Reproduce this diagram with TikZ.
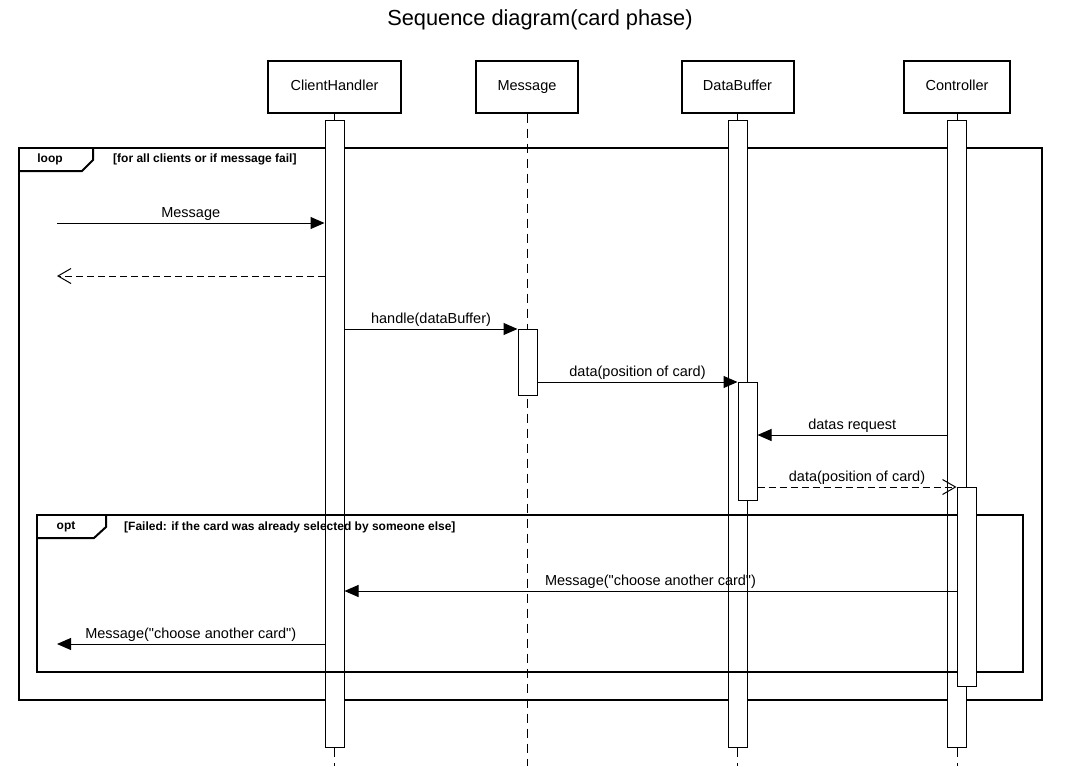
\documentclass[tikz,border=0pt]{standalone}
\usepackage{fontspec}
\setmainfont{Liberation Sans}[Ligatures=TeXOff]
\usetikzlibrary{arrows.meta}
\tikzset{
  head/.style={draw, line width=2pt, fill=white, minimum width=#1, minimum height=52pt, inner sep=0pt, text height=0.72em, text depth=0pt, font=\fontsize{14.5}{16}\selectfont},
  act/.style={draw, line width=1pt, fill=white, minimum width=19pt, inner sep=0pt, anchor=north},
  life/.style={line width=1pt},
  lifed/.style={line width=1pt, dash pattern=on 9pt off 6pt},
  msg/.style={line width=1pt, -{Triangle[length=14pt,width=12pt]}},
  ret/.style={line width=1pt, dash pattern=on 7pt off 4pt, -{Straight Barb[length=13pt,width=15pt,line width=1pt]}},
  mlab/.style={font=\fontsize{14.5}{16}\selectfont, anchor=south, inner sep=2pt},
  frame/.style={line width=2pt},
  ftag/.style={font=\bfseries\fontsize{12}{14}\selectfont, inner sep=0pt},
  fguard/.style={font=\bfseries\fontsize{12}{14}\selectfont, inner sep=0pt, anchor=west},
}
\begin{document}
\begin{tikzpicture}[x=1pt, y=-1pt]
\useasboundingbox (0,0) rectangle (1079,766);
\fill[white] (0,0) rectangle (1079,766);
% title
\node[font=\fontsize{21.8}{24}\selectfont] (title) at (540,20) {Sequence diagram(card phase)};
% heads
\node[head=133pt] (ch) at (334.5,86.5) {ClientHandler};
\node[head=102pt] (ms) at (527,86.5) {Message};
\node[head=112pt] (db) at (737.5,86.5) {DataBuffer};
\node[head=106pt] (ct) at (957,86.5) {Controller};
% bottom ends of lifelines
\coordinate (chE) at (334.5,766);
\coordinate (msE) at (527,766);
\coordinate (dbE) at (737.5,766);
\coordinate (ctE) at (957,766);
% frames
\draw[frame] (19,148) rectangle (1042,700);
\draw[frame] (19,171) -- (82,171) -- (93,160) -- (93,148);
\node[ftag] (looptag) at (50,159) {loop};
\node[fguard] (loopguard) at (113,159) {[for all clients or if message fail]};
% lifelines
\draw[lifed] (ms.south) -- (msE);
% activation bars
\node[act, minimum height=627pt] (chA) at (334.5,120) {};
\node[act, minimum height=627pt] (dbA) at (737.5,120) {};
\node[act, minimum height=627pt] (ctA) at (957,120) {};
\node[act, minimum height=66pt] (msA) at (527.5,329) {};
\node[act, minimum height=118pt] (dbB) at (747.5,382) {};
\draw[life] (ch.south) -- (chA.north);
\draw[life] (db.south) -- (dbA.north);
\draw[life] (ct.south) -- (ctA.north);
\draw[lifed] (chA.south) -- (chE);
\draw[lifed] (dbA.south) -- (dbE);
\draw[lifed] (ctA.south) -- (ctE);
% opt frame
\draw[frame, fill=none] (37,515) rectangle (1023,672);
\draw[frame] (37,538) -- (94,538) -- (106,527) -- (106,515);
\node[ftag] (opttag) at (66,527) {opt};
\node[fguard] (optguard) at (124,527) {[Failed: if the card was already selected by someone else]};
% controller inner bar (drawn after opt frame)
\node[act, minimum height=199pt] (ctB) at (966.5,487) {};
% messages
\coordinate (m1s) at (57,223);
\draw[msg] (m1s) -- node[mlab] (l1) {Message} (chA.west |- m1s);
\coordinate (m2e) at (57,276);
\draw[ret] (chA.west |- m2e) -- (m2e);
\draw[msg] (chA.east |- msA.north) -- node[mlab] (l3) {handle(dataBuffer)} (msA.north west);
\draw[msg] (msA.east |- dbB.north) -- node[mlab] (l4) {data(position of card)} (dbB.north west);
\coordinate (m5) at (0,435);
\draw[msg] (ctA.west |- m5) -- node[mlab] (l5) {datas request} (dbB.east |- m5);
\draw[ret] (dbB.east |- ctB.north) -- node[mlab] (l6) {data(position of card)} (ctB.north west);
\coordinate (m7) at (0,591);
\draw[msg] (ctB.west |- m7) -- node[mlab, pos=0.5] (l7) {Message("choose another card")} (chA.east |- m7);
\coordinate (m8e) at (57,644);
\draw[msg] (chA.west |- m8e) -- node[mlab] (l8) {Message("choose another card")} (m8e);
\end{tikzpicture}
\end{document}
